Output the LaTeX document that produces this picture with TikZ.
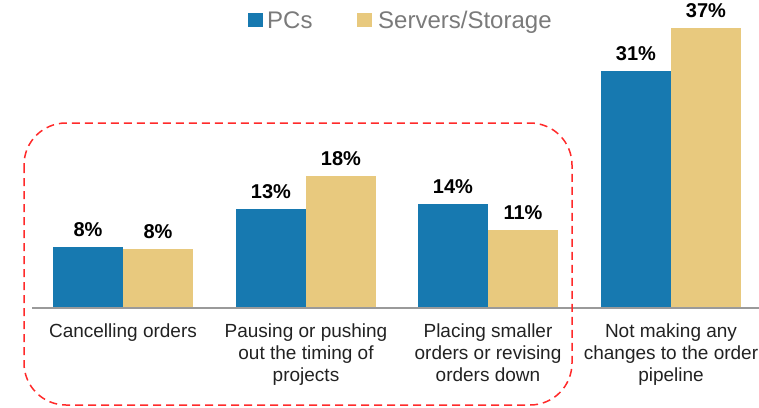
\documentclass[tikz,border=0pt]{standalone}
\usepackage{fontspec}
\setmainfont{Liberation Sans}
\definecolor{pcblue}{HTML}{1779B0}
\definecolor{srvtan}{HTML}{E8C97E}
\definecolor{legendgray}{HTML}{7A7A7A}
\definecolor{axisgray}{HTML}{9A9A9A}
\definecolor{boxred}{HTML}{FF2A2A}
\definecolor{labeltext}{HTML}{222222}
\tikzset{
  bar/.style={draw=none, inner sep=0pt, outer sep=0pt, minimum width=70pt, anchor=south west},
  pcbar/.style={bar, fill=pcblue},
  srvbar/.style={bar, fill=srvtan},
  val/.style={inner sep=0pt, anchor=base, font=\fontsize{20}{24}\selectfont\bfseries, text=black},
  cat/.style={inner sep=0pt, anchor=north, align=center, font=\fontsize{19}{22}\selectfont, text=labeltext},
  legsq/.style={draw=none, inner sep=0pt, minimum width=15pt, minimum height=14pt, anchor=north west},
  legtxt/.style={inner sep=0pt, anchor=base west, font=\fontsize{24}{27}\selectfont, text=legendgray},
}
\begin{document}
\begin{tikzpicture}[x=1pt, y=-1pt]
\useasboundingbox (0,0) rectangle (759,407);
% legend
\node[legsq, fill=pcblue] (lpc) at (248,13) {};
\node[legtxt] (lpct) at (267,28) {PCs};
\node[legsq, fill=srvtan] (lsv) at (357,13) {};
\node[legtxt] (lsvt) at (378,28) {Servers/Storage};
% bars
\node[pcbar, minimum height=61pt] (b1p) at (53,308) {};
\node[srvbar, minimum height=59pt] (b1s) at (123,308) {};
\node[pcbar, minimum height=99pt] (b2p) at (236,308) {};
\node[srvbar, minimum height=132pt] (b2s) at (306,308) {};
\node[pcbar, minimum height=104pt] (b3p) at (418,308) {};
\node[srvbar, minimum height=78pt] (b3s) at (488,308) {};
\node[pcbar, minimum height=237pt] (b4p) at (601,308) {};
\node[srvbar, minimum height=280pt] (b4s) at (671,308) {};
% baseline
\coordinate (axl) at (32,308);
\coordinate (axr) at (759,308);
\draw[axisgray, line width=1.5pt] (axl) -- (axr);
% values
\node[val] (v1p) at (88,236) {8\%};
\node[val] (v1s) at (158,238) {8\%};
\node[val] (v2p) at (271,198) {13\%};
\node[val] (v2s) at (341,165) {18\%};
\node[val] (v3p) at (453,193) {14\%};
\node[val] (v3s) at (523,219) {11\%};
\node[val] (v4p) at (636,60) {31\%};
\node[val] (v4s) at (706,17) {37\%};
% categories
\node[cat] (c1) at (123,324) {Cancelling orders};
\node[cat] (c2) at (306,324) {Pausing or pushing\\out the timing of\\projects};
\node[cat] (c3) at (488,324) {Placing smaller\\orders or revising\\orders down};
\node[cat] (c4) at (671,324) {Not making any\\changes to the order\\pipeline};
% highlight box
\draw[boxred, line width=1.5pt, dash pattern=on 8pt off 5pt, rounded corners=42pt] (24,123) rectangle (572,405);
\end{tikzpicture}
\end{document}
